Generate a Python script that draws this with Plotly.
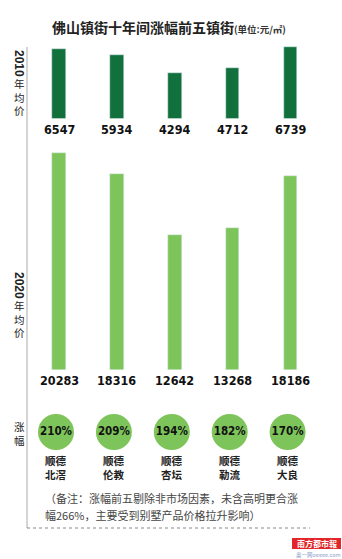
import plotly.graph_objects as go

W, H = 342, 559

towns = ["北滘", "伦教", "杏坛", "勒流", "大良"]
district = "顺德"
price_2010 = [6547, 5934, 4294, 4712, 6739]
price_2020 = [20283, 18316, 12642, 13268, 18186]
growth = ["210%", "209%", "194%", "182%", "170%"]
cats = [district + t for t in towns]

DARK = "#11703c"
LIGHT = "#7dc45a"
NUM_FONT = "Liberation Sans Narrow, DejaVu Sans Condensed, Liberation Sans, Arial, sans-serif"
CJK = "Noto Sans CJK SC"


def py(p):
    return 1 - p / H


def px(p):
    return p / W


# x mapping: first category centre at 59px, step 57.9px
step = 57.9
x0 = 59
xr = [-x0 / step, (W - x0) / step]
scale = 0.01068  # px per yuan

fig = go.Figure()
fig.add_trace(go.Bar(x=cats, y=price_2010, marker_color=DARK, width=13.5 / step,
                     xaxis="x", yaxis="y", showlegend=False, hoverinfo="skip"))
fig.add_trace(go.Bar(x=cats, y=price_2020, marker_color=LIGHT, width=13.5 / step,
                     xaxis="x", yaxis="y2", showlegend=False, hoverinfo="skip"))
fig.add_trace(go.Scatter(x=cats, y=[0.5] * len(cats), mode="markers+text",
                         marker=dict(size=36, color=LIGHT), text=growth,
                         textposition="middle center",
                         textfont=dict(family=NUM_FONT, size=11.5, color="#111", weight="bold"),
                         xaxis="x2", yaxis="y3", showlegend=False, hoverinfo="skip"))

top_base, top_top = 118.5, 40
bot_base, bot_top = 370, 140
shift = 3 / step

fig.update_layout(
    width=W, height=H, margin=dict(l=0, r=0, t=0, b=0),
    paper_bgcolor="white", plot_bgcolor="rgba(0,0,0,0)",
    xaxis=dict(range=xr, visible=False, domain=[0, 1]),
    xaxis2=dict(range=[xr[0] + shift, xr[1] + shift], visible=False, domain=[0, 1],
                anchor="y3", overlaying="x"),
    yaxis=dict(domain=[py(top_base), py(top_top)],
               range=[0, (top_base - top_top) / scale], visible=False),
    yaxis2=dict(domain=[py(bot_base), py(bot_top)],
                range=[0, (bot_base - bot_top) / scale], visible=False),
    yaxis3=dict(domain=[py(452), py(412)], range=[0, 1], visible=False),
    bargap=0,
)

ann = []
# title
ann.append(dict(x=px(50), y=py(27), xref="paper", yref="paper", xanchor="left", yanchor="middle",
                text="佛山镇街十年间涨幅前五镇街<span style='font-size:9.5px;color:#333'>(单位:元/㎡)</span>",
                showarrow=False, font=dict(family=CJK, size=14, color="#222", weight="bold")))

for i, c in enumerate(cats):
    ann.append(dict(x=c, y=0, xref="x", yref="y", yanchor="top", yshift=-1,
                    text=f"{price_2010[i]}", showarrow=False,
                    font=dict(family=NUM_FONT, size=12.5, color="#111", weight="bold")))
    ann.append(dict(x=c, y=0, xref="x", yref="y2", yanchor="top", yshift=-1,
                    text=f"{price_2020[i]}", showarrow=False,
                    font=dict(family=NUM_FONT, size=12.5, color="#111", weight="bold")))
    ann.append(dict(x=c, y=py(467), xref="x2", yref="paper", xanchor="center", yanchor="middle",
                    text=f"{district}<br>{towns[i]}", showarrow=False,
                    font=dict(family=CJK, size=10.5, color="#222", weight="bold")))

# side labels
side_font = dict(family=CJK, size=10.5, color="#222")
num_side = dict(family="Liberation Sans, Arial, sans-serif", size=12, color="#222")


def side(text, yy, **kw):
    ann.append(dict(x=px(19), y=py(yy), xref="paper", yref="paper", text=text,
                    xanchor="center", yanchor="middle", showarrow=False, **kw))


side("<b>2010</b>", 63, textangle=90, font=num_side)
side("年<br>均<br>价", 97.5, font=side_font)
side("<b>2020</b>", 285, textangle=90, font=num_side)
side("年<br>均<br>价", 318.5, font=side_font)
side("涨<br>幅", 433.5, font=side_font)

# note
note_font = dict(family=CJK, size=11, color="#444")
ann.append(dict(x=px(43), y=py(498), xref="paper", yref="paper", xanchor="left",
                yanchor="middle", text="（备注：涨幅前五剔除非市场因素，未含高明更合涨",
                showarrow=False, font=note_font))
ann.append(dict(x=px(43), y=py(515), xref="paper", yref="paper", xanchor="left",
                yanchor="middle", text="幅266%，主要受到别墅产品价格拉升影响）",
                showarrow=False, font=note_font))

# logo
ann.append(dict(x=px(316.5), y=py(543.5), xref="paper", yref="paper", xanchor="center",
                yanchor="middle", text="南方都市報", showarrow=False,
                font=dict(family=CJK, size=8, color="white", weight="bold")))
ann.append(dict(x=px(318), y=py(555), xref="paper", yref="paper", xanchor="center",
                yanchor="middle", text="奥一网oeeee.com", showarrow=False,
                font=dict(family=CJK, size=5.5, color="#8aa0c8")))

fig.update_layout(annotations=ann)

shapes = [
    dict(type="line", xref="paper", yref="paper", x0=px(27), x1=px(27),
         y0=py(47), y1=py(528), line=dict(color="#aaaaaa", width=1)),
    dict(type="line", xref="paper", yref="paper", x0=px(27), x1=px(310),
         y0=py(528), y1=py(528), line=dict(color="#888888", width=1, dash="dot")),
    dict(type="rect", xref="paper", yref="paper", x0=px(292), x1=px(341),
         y0=py(549), y1=py(538), fillcolor="#e0262a", line=dict(width=0)),
]
fig.update_layout(shapes=shapes)

fig.write_html("out.html")
